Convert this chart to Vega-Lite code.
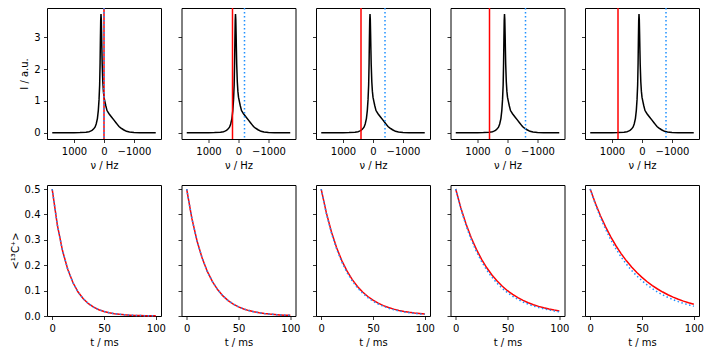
{
  "$schema": "https://vega.github.io/schema/vega-lite/v6.json",
  "background": "white",
  "padding": {"left": 9, "top": 6, "right": 5, "bottom": 3},
  "config": {
    "font": "DejaVu Sans",
    "view": {"stroke": "black", "strokeWidth": 1},
    "axis": {"grid": false, "domain": false, "tickColor": "black", "tickSize": 3.5, "tickWidth": 0.8, "labelColor": "black", "labelFontSize": 10, "titleFontSize": 10, "titleFontWeight": "normal", "titleColor": "black", "labelPadding": 3.5, "titlePadding": 4, "labelFont": "DejaVu Sans", "titleFont": "DejaVu Sans", "labelOverlap": false}
  },
  "datasets": {
    "spec": [
      {"nu": -1725, "I": 0.003}, {"nu": -1400, "I": 0.005}, {"nu": -1200, "I": 0.008}, {"nu": -1000, "I": 0.015},
      {"nu": -850, "I": 0.03}, {"nu": -750, "I": 0.05}, {"nu": -650, "I": 0.1}, {"nu": -555, "I": 0.16},
      {"nu": -500, "I": 0.2}, {"nu": -450, "I": 0.26}, {"nu": -400, "I": 0.32}, {"nu": -333, "I": 0.4},
      {"nu": -250, "I": 0.5}, {"nu": -167, "I": 0.6}, {"nu": -100, "I": 0.7}, {"nu": -60, "I": 0.85},
      {"nu": -30, "I": 0.98}, {"nu": 0, "I": 1.12}, {"nu": 20, "I": 1.3}, {"nu": 40, "I": 1.6},
      {"nu": 60, "I": 2.15}, {"nu": 70, "I": 2.6}, {"nu": 80, "I": 3.1}, {"nu": 90, "I": 3.55},
      {"nu": 100, "I": 3.72}, {"nu": 110, "I": 3.5}, {"nu": 120, "I": 2.9}, {"nu": 130, "I": 2.2},
      {"nu": 145, "I": 1.5}, {"nu": 165, "I": 1.05}, {"nu": 190, "I": 0.7}, {"nu": 220, "I": 0.45},
      {"nu": 260, "I": 0.28}, {"nu": 300, "I": 0.18}, {"nu": 350, "I": 0.12}, {"nu": 400, "I": 0.08},
      {"nu": 450, "I": 0.055}, {"nu": 500, "I": 0.04}, {"nu": 600, "I": 0.025}, {"nu": 800, "I": 0.012},
      {"nu": 1000, "I": 0.008}, {"nu": 1400, "I": 0.004}, {"nu": 1725, "I": 0.003}
    ],
    "lines": [
      {"p": 1, "s": "red", "nu": 0}, {"p": 1, "s": "blue", "nu": 0},
      {"p": 2, "s": "red", "nu": 200}, {"p": 2, "s": "blue", "nu": -200},
      {"p": 3, "s": "red", "nu": 400}, {"p": 3, "s": "blue", "nu": -400},
      {"p": 4, "s": "red", "nu": 600}, {"p": 4, "s": "blue", "nu": -600},
      {"p": 5, "s": "red", "nu": 800}, {"p": 5, "s": "blue", "nu": -800}
    ],
    "decay": [
      {"p":1,"t":0,"r":0.5,"b":0.5},{"p":1,"t":5,"r":0.35827,"b":0.35827},{"p":1,"t":10,"r":0.25671,"b":0.25671},{"p":1,"t":15,"r":0.18394,"b":0.18394},{"p":1,"t":20,"r":0.1318,"b":0.1318},{"p":1,"t":25,"r":0.09444,"b":0.09444},{"p":1,"t":30,"r":0.06767,"b":0.06767},{"p":1,"t":35,"r":0.04849,"b":0.04849},{"p":1,"t":40,"r":0.03474,"b":0.03474},{"p":1,"t":45,"r":0.02489,"b":0.02489},{"p":1,"t":50,"r":0.01784,"b":0.01784},{"p":1,"t":55,"r":0.01278,"b":0.01278},{"p":1,"t":60,"r":0.00916,"b":0.00916},{"p":1,"t":65,"r":0.00656,"b":0.00656},{"p":1,"t":70,"r":0.0047,"b":0.0047},{"p":1,"t":75,"r":0.00337,"b":0.00337},{"p":1,"t":80,"r":0.00241,"b":0.00241},{"p":1,"t":85,"r":0.00173,"b":0.00173},{"p":1,"t":90,"r":0.00124,"b":0.00124},{"p":1,"t":95,"r":0.00089,"b":0.00089},{"p":1,"t":100,"r":0.00064,"b":0.00064},
      {"p":2,"t":0,"r":0.5,"b":0.5},{"p":2,"t":5,"r":0.38431,"b":0.38431},{"p":2,"t":10,"r":0.29539,"b":0.29539},{"p":2,"t":15,"r":0.22705,"b":0.22705},{"p":2,"t":20,"r":0.17451,"b":0.17451},{"p":2,"t":25,"r":0.13414,"b":0.13414},{"p":2,"t":30,"r":0.1031,"b":0.1031},{"p":2,"t":35,"r":0.07925,"b":0.07925},{"p":2,"t":40,"r":0.06091,"b":0.06091},{"p":2,"t":45,"r":0.04682,"b":0.04682},{"p":2,"t":50,"r":0.03598,"b":0.03598},{"p":2,"t":55,"r":0.02766,"b":0.02766},{"p":2,"t":60,"r":0.02126,"b":0.02126},{"p":2,"t":65,"r":0.01634,"b":0.01634},{"p":2,"t":70,"r":0.01256,"b":0.01256},{"p":2,"t":75,"r":0.00965,"b":0.00965},{"p":2,"t":80,"r":0.00742,"b":0.00742},{"p":2,"t":85,"r":0.0057,"b":0.0057},{"p":2,"t":90,"r":0.00438,"b":0.00438},{"p":2,"t":95,"r":0.00337,"b":0.00337},{"p":2,"t":100,"r":0.00259,"b":0.00259},
      {"p":3,"t":0,"r":0.5,"b":0.5},{"p":3,"t":5,"r":0.40596,"b":0.40344},{"p":3,"t":10,"r":0.32962,"b":0.32552},{"p":3,"t":15,"r":0.26763,"b":0.26265},{"p":3,"t":20,"r":0.2173,"b":0.21193},{"p":3,"t":25,"r":0.17643,"b":0.171},{"p":3,"t":30,"r":0.14325,"b":0.13797},{"p":3,"t":35,"r":0.11631,"b":0.11133},{"p":3,"t":40,"r":0.09444,"b":0.08983},{"p":3,"t":45,"r":0.07668,"b":0.07248},{"p":3,"t":50,"r":0.06226,"b":0.05848},{"p":3,"t":55,"r":0.05055,"b":0.04719},{"p":3,"t":60,"r":0.04104,"b":0.03807},{"p":3,"t":65,"r":0.03332,"b":0.03072},{"p":3,"t":70,"r":0.02706,"b":0.02479},{"p":3,"t":75,"r":0.02197,"b":0.02},{"p":3,"t":80,"r":0.01784,"b":0.01614},{"p":3,"t":85,"r":0.01448,"b":0.01302},{"p":3,"t":90,"r":0.01176,"b":0.01051},{"p":3,"t":95,"r":0.00955,"b":0.00848},{"p":3,"t":100,"r":0.00775,"b":0.00684},
      {"p":4,"t":0,"r":0.5,"b":0.5},{"p":4,"t":5,"r":0.42553,"b":0.42205},{"p":4,"t":10,"r":0.36214,"b":0.35625},{"p":4,"t":15,"r":0.3082,"b":0.30071},{"p":4,"t":20,"r":0.26229,"b":0.25383},{"p":4,"t":25,"r":0.22322,"b":0.21426},{"p":4,"t":30,"r":0.18997,"b":0.18086},{"p":4,"t":35,"r":0.16168,"b":0.15266},{"p":4,"t":40,"r":0.1376,"b":0.12886},{"p":4,"t":45,"r":0.1171,"b":0.10877},{"p":4,"t":50,"r":0.09966,"b":0.09181},{"p":4,"t":55,"r":0.08481,"b":0.0775},{"p":4,"t":60,"r":0.07218,"b":0.06542},{"p":4,"t":65,"r":0.06143,"b":0.05522},{"p":4,"t":70,"r":0.05228,"b":0.04661},{"p":4,"t":75,"r":0.04449,"b":0.03934},{"p":4,"t":80,"r":0.03786,"b":0.03321},{"p":4,"t":85,"r":0.03222,"b":0.02803},{"p":4,"t":90,"r":0.02742,"b":0.02366},{"p":4,"t":95,"r":0.02334,"b":0.01997},{"p":4,"t":100,"r":0.01986,"b":0.01686},
      {"p":5,"t":0,"r":0.5,"b":0.5},{"p":5,"t":5,"r":0.44389,"b":0.43984},{"p":5,"t":10,"r":0.39407,"b":0.38691},{"p":5,"t":15,"r":0.34984,"b":0.34035},{"p":5,"t":20,"r":0.31058,"b":0.2994},{"p":5,"t":25,"r":0.27572,"b":0.26337},{"p":5,"t":30,"r":0.24478,"b":0.23168},{"p":5,"t":35,"r":0.21731,"b":0.2038},{"p":5,"t":40,"r":0.19292,"b":0.17928},{"p":5,"t":45,"r":0.17127,"b":0.15771},{"p":5,"t":50,"r":0.15205,"b":0.13873},{"p":5,"t":55,"r":0.13498,"b":0.12204},{"p":5,"t":60,"r":0.11983,"b":0.10735},{"p":5,"t":65,"r":0.10638,"b":0.09444},{"p":5,"t":70,"r":0.09444,"b":0.08307},{"p":5,"t":75,"r":0.08384,"b":0.07308},{"p":5,"t":80,"r":0.07443,"b":0.06428},{"p":5,"t":85,"r":0.06608,"b":0.05655},{"p":5,"t":90,"r":0.05866,"b":0.04974},{"p":5,"t":95,"r":0.05208,"b":0.04376},{"p":5,"t":100,"r":0.04623,"b":0.03849}
    ]
  },
  "columns": 5,
  "spacing": {"row": 46, "column": 20.5},
  "bounds": "flush",
  "concat": [
    {"width": 114, "height": 131, "layer": [
      {"data": {"name": "spec"}, "mark": {"type": "line", "color": "black", "strokeWidth": 1.5}, "encoding": {"x": {"field": "nu", "type": "quantitative", "title": "ν / Hz", "scale": {"domain": [-1900, 1900], "reverse": true, "nice": false, "zero": false}, "axis": {"values": [1000, 0, -1000], "format": "d"}}, "y": {"field": "I", "type": "quantitative", "title": "I / a.u.", "scale": {"domain": [-0.19, 3.91], "nice": false, "zero": false}, "axis": {"values": [0, 1, 2, 3], "format": "d"}}}},
      {"data": {"name": "lines"}, "transform": [{"filter": "datum.p == 1 && datum.s == 'red'"}], "mark": {"type": "rule", "color": "red", "strokeWidth": 1.5}, "encoding": {"x": {"field": "nu", "type": "quantitative", "title": "ν / Hz", "axis": {"values": [1000, 0, -1000], "format": "d"}}}},
      {"data": {"name": "lines"}, "transform": [{"filter": "datum.p == 1 && datum.s == 'blue'"}], "mark": {"type": "rule", "color": "#1e90ff", "strokeWidth": 1.5, "strokeDash": [1.5, 2.5]}, "encoding": {"x": {"field": "nu", "type": "quantitative", "title": "ν / Hz", "axis": {"values": [1000, 0, -1000], "format": "d"}}}}
    ]},
    {"width": 114, "height": 131, "layer": [
      {"data": {"name": "spec"}, "mark": {"type": "line", "color": "black", "strokeWidth": 1.5}, "encoding": {"x": {"field": "nu", "type": "quantitative", "title": "ν / Hz", "scale": {"domain": [-1900, 1900], "reverse": true, "nice": false, "zero": false}, "axis": {"values": [1000, 0, -1000], "format": "d"}}, "y": {"field": "I", "type": "quantitative", "title": null, "scale": {"domain": [-0.19, 3.91], "nice": false, "zero": false}, "axis": {"values": [0, 1, 2, 3], "labels": false}}}},
      {"data": {"name": "lines"}, "transform": [{"filter": "datum.p == 2 && datum.s == 'red'"}], "mark": {"type": "rule", "color": "red", "strokeWidth": 1.5}, "encoding": {"x": {"field": "nu", "type": "quantitative", "title": "ν / Hz", "axis": {"values": [1000, 0, -1000], "format": "d"}}}},
      {"data": {"name": "lines"}, "transform": [{"filter": "datum.p == 2 && datum.s == 'blue'"}], "mark": {"type": "rule", "color": "#1e90ff", "strokeWidth": 1.5, "strokeDash": [1.5, 2.5]}, "encoding": {"x": {"field": "nu", "type": "quantitative", "title": "ν / Hz", "axis": {"values": [1000, 0, -1000], "format": "d"}}}}
    ]},
    {"width": 114, "height": 131, "layer": [
      {"data": {"name": "spec"}, "mark": {"type": "line", "color": "black", "strokeWidth": 1.5}, "encoding": {"x": {"field": "nu", "type": "quantitative", "title": "ν / Hz", "scale": {"domain": [-1900, 1900], "reverse": true, "nice": false, "zero": false}, "axis": {"values": [1000, 0, -1000], "format": "d"}}, "y": {"field": "I", "type": "quantitative", "title": null, "scale": {"domain": [-0.19, 3.91], "nice": false, "zero": false}, "axis": {"values": [0, 1, 2, 3], "labels": false}}}},
      {"data": {"name": "lines"}, "transform": [{"filter": "datum.p == 3 && datum.s == 'red'"}], "mark": {"type": "rule", "color": "red", "strokeWidth": 1.5}, "encoding": {"x": {"field": "nu", "type": "quantitative", "title": "ν / Hz", "axis": {"values": [1000, 0, -1000], "format": "d"}}}},
      {"data": {"name": "lines"}, "transform": [{"filter": "datum.p == 3 && datum.s == 'blue'"}], "mark": {"type": "rule", "color": "#1e90ff", "strokeWidth": 1.5, "strokeDash": [1.5, 2.5]}, "encoding": {"x": {"field": "nu", "type": "quantitative", "title": "ν / Hz", "axis": {"values": [1000, 0, -1000], "format": "d"}}}}
    ]},
    {"width": 114, "height": 131, "layer": [
      {"data": {"name": "spec"}, "mark": {"type": "line", "color": "black", "strokeWidth": 1.5}, "encoding": {"x": {"field": "nu", "type": "quantitative", "title": "ν / Hz", "scale": {"domain": [-1900, 1900], "reverse": true, "nice": false, "zero": false}, "axis": {"values": [1000, 0, -1000], "format": "d"}}, "y": {"field": "I", "type": "quantitative", "title": null, "scale": {"domain": [-0.19, 3.91], "nice": false, "zero": false}, "axis": {"values": [0, 1, 2, 3], "labels": false}}}},
      {"data": {"name": "lines"}, "transform": [{"filter": "datum.p == 4 && datum.s == 'red'"}], "mark": {"type": "rule", "color": "red", "strokeWidth": 1.5}, "encoding": {"x": {"field": "nu", "type": "quantitative", "title": "ν / Hz", "axis": {"values": [1000, 0, -1000], "format": "d"}}}},
      {"data": {"name": "lines"}, "transform": [{"filter": "datum.p == 4 && datum.s == 'blue'"}], "mark": {"type": "rule", "color": "#1e90ff", "strokeWidth": 1.5, "strokeDash": [1.5, 2.5]}, "encoding": {"x": {"field": "nu", "type": "quantitative", "title": "ν / Hz", "axis": {"values": [1000, 0, -1000], "format": "d"}}}}
    ]},
    {"width": 114, "height": 131, "layer": [
      {"data": {"name": "spec"}, "mark": {"type": "line", "color": "black", "strokeWidth": 1.5}, "encoding": {"x": {"field": "nu", "type": "quantitative", "title": "ν / Hz", "scale": {"domain": [-1900, 1900], "reverse": true, "nice": false, "zero": false}, "axis": {"values": [1000, 0, -1000], "format": "d"}}, "y": {"field": "I", "type": "quantitative", "title": null, "scale": {"domain": [-0.19, 3.91], "nice": false, "zero": false}, "axis": {"values": [0, 1, 2, 3], "labels": false}}}},
      {"data": {"name": "lines"}, "transform": [{"filter": "datum.p == 5 && datum.s == 'red'"}], "mark": {"type": "rule", "color": "red", "strokeWidth": 1.5}, "encoding": {"x": {"field": "nu", "type": "quantitative", "title": "ν / Hz", "axis": {"values": [1000, 0, -1000], "format": "d"}}}},
      {"data": {"name": "lines"}, "transform": [{"filter": "datum.p == 5 && datum.s == 'blue'"}], "mark": {"type": "rule", "color": "#1e90ff", "strokeWidth": 1.5, "strokeDash": [1.5, 2.5]}, "encoding": {"x": {"field": "nu", "type": "quantitative", "title": "ν / Hz", "axis": {"values": [1000, 0, -1000], "format": "d"}}}}
    ]},
    {"width": 114, "height": 131, "data": {"name": "decay"}, "transform": [{"filter": "datum.p == 1"}], "layer": [
      {"mark": {"type": "line", "color": "red", "strokeWidth": 1.5}, "encoding": {"x": {"field": "t", "type": "quantitative", "title": "t / ms", "scale": {"domain": [-5, 105], "nice": false, "zero": false}, "axis": {"values": [0, 50, 100], "format": "d"}}, "y": {"field": "r", "type": "quantitative", "title": "<¹³C⁺>", "scale": {"domain": [0, 0.516], "nice": false, "zero": false}, "axis": {"values": [0, 0.1, 0.2, 0.3, 0.4, 0.5], "format": ".1f"}}}},
      {"mark": {"type": "line", "color": "#1e90ff", "strokeWidth": 1.5, "strokeDash": [1.5, 2.5]}, "encoding": {"x": {"field": "t", "type": "quantitative", "title": "t / ms", "axis": {"values": [0, 50, 100], "format": "d"}}, "y": {"field": "b", "type": "quantitative", "title": "<¹³C⁺>", "axis": {"values": [0, 0.1, 0.2, 0.3, 0.4, 0.5], "format": ".1f"}}}}
    ]},
    {"width": 114, "height": 131, "data": {"name": "decay"}, "transform": [{"filter": "datum.p == 2"}], "layer": [
      {"mark": {"type": "line", "color": "red", "strokeWidth": 1.5}, "encoding": {"x": {"field": "t", "type": "quantitative", "title": "t / ms", "scale": {"domain": [-5, 105], "nice": false, "zero": false}, "axis": {"values": [0, 50, 100], "format": "d"}}, "y": {"field": "r", "type": "quantitative", "title": null, "scale": {"domain": [0, 0.516], "nice": false}, "axis": {"values": [0, 0.1, 0.2, 0.3, 0.4, 0.5], "labels": false}}}},
      {"mark": {"type": "line", "color": "#1e90ff", "strokeWidth": 1.5, "strokeDash": [1.5, 2.5]}, "encoding": {"x": {"field": "t", "type": "quantitative", "title": "t / ms", "axis": {"values": [0, 50, 100], "format": "d"}}, "y": {"field": "b", "type": "quantitative", "title": null, "axis": {"values": [0, 0.1, 0.2, 0.3, 0.4, 0.5], "labels": false}}}}
    ]},
    {"width": 114, "height": 131, "data": {"name": "decay"}, "transform": [{"filter": "datum.p == 3"}], "layer": [
      {"mark": {"type": "line", "color": "red", "strokeWidth": 1.5}, "encoding": {"x": {"field": "t", "type": "quantitative", "title": "t / ms", "scale": {"domain": [-5, 105], "nice": false, "zero": false}, "axis": {"values": [0, 50, 100], "format": "d"}}, "y": {"field": "r", "type": "quantitative", "title": null, "scale": {"domain": [0, 0.516], "nice": false}, "axis": {"values": [0, 0.1, 0.2, 0.3, 0.4, 0.5], "labels": false}}}},
      {"mark": {"type": "line", "color": "#1e90ff", "strokeWidth": 1.5, "strokeDash": [1.5, 2.5]}, "encoding": {"x": {"field": "t", "type": "quantitative", "title": "t / ms", "axis": {"values": [0, 50, 100], "format": "d"}}, "y": {"field": "b", "type": "quantitative", "title": null, "axis": {"values": [0, 0.1, 0.2, 0.3, 0.4, 0.5], "labels": false}}}}
    ]},
    {"width": 114, "height": 131, "data": {"name": "decay"}, "transform": [{"filter": "datum.p == 4"}], "layer": [
      {"mark": {"type": "line", "color": "red", "strokeWidth": 1.5}, "encoding": {"x": {"field": "t", "type": "quantitative", "title": "t / ms", "scale": {"domain": [-5, 105], "nice": false, "zero": false}, "axis": {"values": [0, 50, 100], "format": "d"}}, "y": {"field": "r", "type": "quantitative", "title": null, "scale": {"domain": [0, 0.516], "nice": false}, "axis": {"values": [0, 0.1, 0.2, 0.3, 0.4, 0.5], "labels": false}}}},
      {"mark": {"type": "line", "color": "#1e90ff", "strokeWidth": 1.5, "strokeDash": [1.5, 2.5]}, "encoding": {"x": {"field": "t", "type": "quantitative", "title": "t / ms", "axis": {"values": [0, 50, 100], "format": "d"}}, "y": {"field": "b", "type": "quantitative", "title": null, "axis": {"values": [0, 0.1, 0.2, 0.3, 0.4, 0.5], "labels": false}}}}
    ]},
    {"width": 114, "height": 131, "data": {"name": "decay"}, "transform": [{"filter": "datum.p == 5"}], "layer": [
      {"mark": {"type": "line", "color": "red", "strokeWidth": 1.5}, "encoding": {"x": {"field": "t", "type": "quantitative", "title": "t / ms", "scale": {"domain": [-5, 105], "nice": false, "zero": false}, "axis": {"values": [0, 50, 100], "format": "d"}}, "y": {"field": "r", "type": "quantitative", "title": null, "scale": {"domain": [0, 0.516], "nice": false}, "axis": {"values": [0, 0.1, 0.2, 0.3, 0.4, 0.5], "labels": false}}}},
      {"mark": {"type": "line", "color": "#1e90ff", "strokeWidth": 1.5, "strokeDash": [1.5, 2.5]}, "encoding": {"x": {"field": "t", "type": "quantitative", "title": "t / ms", "axis": {"values": [0, 50, 100], "format": "d"}}, "y": {"field": "b", "type": "quantitative", "title": null, "axis": {"values": [0, 0.1, 0.2, 0.3, 0.4, 0.5], "labels": false}}}}
    ]}
  ]
}
